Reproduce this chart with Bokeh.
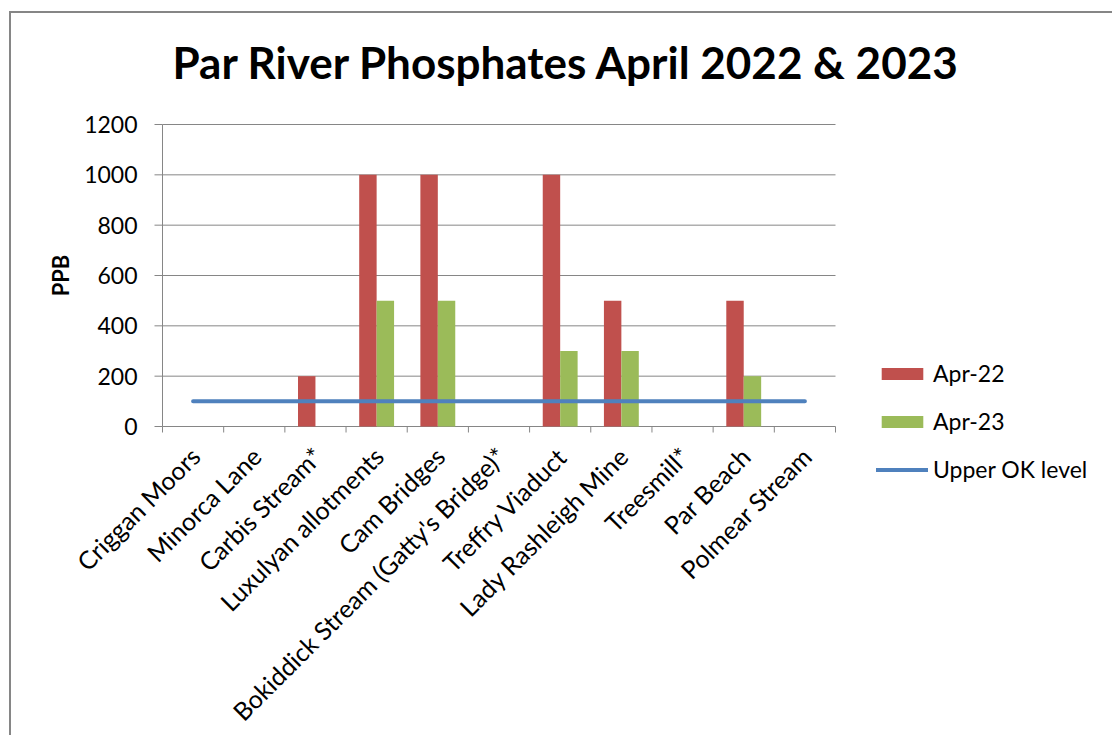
import math

from bokeh.core.properties import value
from bokeh.embed import file_html
from bokeh.models import (ColumnDataSource, Label, Legend, LegendItem,
                          Range1d)
from bokeh.plotting import figure
from bokeh.resources import INLINE

# Monitoring sites along the Par River, upstream to the sea
sites = [
    "Criggan Moors",
    "Minorca Lane",
    "Carbis Stream*",
    "Luxulyan allotments",
    "Cam Bridges",
    "Bokiddick Stream (Gatty's Bridge)*",
    "Treffry Viaduct",
    "Lady Rashleigh Mine",
    "Treesmill*",
    "Par Beach",
    "Polmear Stream",
]
# Phosphate readings in parts per billion
apr_22 = [0, 0, 200, 1000, 1000, 0, 1000, 500, 0, 500, 0]
apr_23 = [0, 0, 0, 500, 500, 0, 300, 300, 0, 200, 0]
upper_ok = [100] * len(sites)

series_labels = ["Apr-22", "Apr-23", "Upper OK level"]
y_ticks = [0, 200, 400, 600, 800, 1000, 1200]
y_tick_labels = ["0", "200", "400", "600", "800", "1000", "1200"]
title_text = "Par River Phosphates April 2022 & 2023"
y_title = "PPB"

RED = "#C0504D"
GREEN = "#9BBB59"
BLUE = "#4F81BD"
GREY = "#868686"
FONT = "Lato"
TEXT_SIZE = "23px"
NAME_SIZE = "25px"

# Canvas geometry in pixels. The frame fills the whole canvas; the bar
# area is AREA_W x AREA_H pixels with its top-left corner at (AREA_LEFT,
# AREA_TOP), and the axes, names, title and legend are laid out around it.
PLOT_W, PLOT_H = 1103, 724
AREA_LEFT, AREA_TOP = 151, 111
AREA_W, AREA_H = 673, 302
Y_TICK_PX, X_TICK_PX = 8, 6

n = len(sites)
y_max = y_ticks[-1]
px_x = n / AREA_W          # data units per pixel, horizontally
px_y = y_max / AREA_H      # data units per pixel, vertically
area_bottom = AREA_TOP + AREA_H

x_range = Range1d(-AREA_LEFT * px_x, (PLOT_W - AREA_LEFT) * px_x)
y_range = Range1d(-(PLOT_H - area_bottom) * px_y, y_max + AREA_TOP * px_y)

centers = [i + 0.5 for i in range(n)]
bounds = list(range(n + 1))
bar_w = 0.285

src = ColumnDataSource(dict(
    site=sites,
    x22=[c - bar_w / 2 for c in centers],
    x23=[c + bar_w / 2 for c in centers],
    xc=centers,
    apr_22=apr_22,
    apr_23=apr_23,
    upper_ok=upper_ok,
))
ysrc = ColumnDataSource(dict(y=y_ticks, label=y_tick_labels))

p = figure(
    width=PLOT_W, height=PLOT_H,
    x_range=x_range, y_range=y_range,
    x_axis_location=None, y_axis_location=None,
    output_backend="svg", toolbar_location=None,
    min_border=0,
    styles={
        "margin-left": "9px",
        "margin-top": "11px",
        "border-left": f"2px solid {GREY}",
        "border-top": f"2px solid {GREY}",
    },
)
p.outline_line_color = None
p.background_fill_color = "white"
p.border_fill_color = "white"
p.grid.visible = False

# Horizontal gridlines; the one at zero is the category axis line
p.segment(x0=0, x1=n, y0="y", y1="y", source=ysrc,
          line_color=GREY, line_width=1)
# Value axis line and its outward ticks
p.segment(x0=0, x1=0, y0=0, y1=y_max, line_color=GREY, line_width=1)
p.segment(x0=0, x1=-Y_TICK_PX * px_x, y0="y", y1="y", source=ysrc,
          line_color=GREY, line_width=1)
# Tick marks on the category boundaries
p.segment(x0=bounds, x1=bounds, y0=0, y1=-X_TICK_PX * px_y,
          line_color=GREY, line_width=1)

r22 = p.vbar(x="x22", top="apr_22", width=bar_w, source=src,
             fill_color=RED, line_color=None)
r23 = p.vbar(x="x23", top="apr_23", width=bar_w, source=src,
             fill_color=GREEN, line_color=None)
rok = p.line(x="xc", y="upper_ok", source=src, line_color=BLUE,
             line_width=4, line_cap="round")

# Value labels to the left of the ticks
p.text(x=0, y="y", text="label", source=ysrc,
       text_align="right", text_baseline="middle", x_offset=-25,
       text_font=value(FONT), text_font_size=TEXT_SIZE, text_color="black")

# Category names, slanted at 45 degrees and ending under each category
p.text(x="xc", y=0, text="site", source=src, angle=math.pi / 4,
       text_align="right", text_baseline="middle",
       x_offset=2, y_offset=25,
       text_font=value(FONT), text_font_size=NAME_SIZE, text_color="black")

# Value axis title
p.add_layout(Label(
    x=AREA_LEFT - 102, y=y_max / 2, x_units="screen", y_units="data",
    text=y_title, angle=math.pi / 2,
    text_align="center", text_baseline="middle",
    text_font=FONT, text_font_size="22px", text_font_style="bold",
    text_color="black",
))
# Chart title
p.add_layout(Label(
    x=161, y=PLOT_H - 48, x_units="screen", y_units="screen",
    text=title_text, text_align="left", text_baseline="alphabetic",
    text_font=FONT, text_font_size="44px", text_font_style="bold",
    text_color="black",
))

legend = Legend(
    items=[LegendItem(label=series_labels[0], renderers=[r22]),
           LegendItem(label=series_labels[1], renderers=[r23]),
           LegendItem(label=series_labels[2], renderers=[rok])],
    location=(865, 254),
    orientation="vertical",
    glyph_width=52, glyph_height=15,
    label_height=20, label_standoff=5,
    spacing=20, padding=0, margin=0,
    border_line_color=None, background_fill_alpha=0,
    label_text_font=FONT, label_text_font_size=TEXT_SIZE,
    label_text_color="black",
)
p.add_layout(legend, "center")

open("out.html", "w").write(file_html(p, INLINE))
